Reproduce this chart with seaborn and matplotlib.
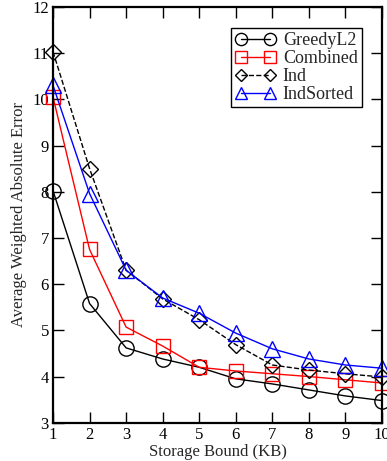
import matplotlib
matplotlib.use("Agg")
import matplotlib.pyplot as plt
import seaborn as sns
import pandas as pd

sns.set_theme(style="ticks")
plt.rcParams['font.family'] = ['Liberation Serif', 'DejaVu Serif']

storage = [1, 2, 3, 4, 5, 6, 7, 8, 9, 10]
greedy = [8.02, 5.58, 4.62, 4.38, 4.20, 3.95, 3.84, 3.71, 3.58, 3.48]
combined = [10.05, 6.75, 5.07, 4.66, 4.20, 4.12, 4.06, 4.00, 3.93, 3.86]
ind = [11.03, 8.50, 6.30, 5.68, 5.23, 4.69, 4.25, 4.14, 4.06, 3.99]
indsorted = [10.30, 7.96, 6.30, 5.70, 5.37, 4.94, 4.60, 4.38, 4.25, 4.18]

series = ["GreedyL2", "Combined", "Ind", "IndSorted"]
df = pd.DataFrame({
    "x": storage * 4,
    "y": greedy + combined + ind + indsorted,
    "s": sum([[n] * len(storage) for n in series], []),
})

fig, ax = plt.subplots(figsize=(3.87, 4.61), dpi=100)
fig.subplots_adjust(left=0.137, right=0.987, top=0.985, bottom=0.083)

colors = {"GreedyL2": "black", "Combined": "red", "Ind": "black", "IndSorted": "blue"}
markers = {"GreedyL2": "o", "Combined": "s", "Ind": "D", "IndSorted": "^"}
msize = {"GreedyL2": 11, "Combined": 10, "Ind": 8, "IndSorted": 11}
styles = {"GreedyL2": "-", "Combined": "-", "Ind": "--", "IndSorted": "-"}

for n in series:
    sub = df[df.s == n]
    sns.lineplot(data=sub, x="x", y="y", ax=ax, color=colors[n], marker=markers[n],
                 markersize=msize[n], markerfacecolor="none", markeredgecolor=colors[n],
                 markeredgewidth=1.0, linewidth=1.0, linestyle=styles[n], label=n,
                 clip_on=False)

ax.set_xlim(1, 10)
ax.set_ylim(3, 12)
ax.set_xticks(storage)
ax.set_yticks(range(3, 13))
ax.tick_params(direction="in", top=True, right=True, length=8, width=1, labelsize=12, colors="black", pad=3)
for sp in ax.spines.values():
    sp.set_linewidth(1.6)
    sp.set_color("black")
ax.set_xlabel("Storage Bound (KB)", fontsize=12, labelpad=1)
ax.set_ylabel("Average Weighted Absolute Error", fontsize=12, labelpad=4)

leg = ax.legend(loc="upper right", bbox_to_anchor=(0.94, 0.95), fontsize=13, frameon=True,
                fancybox=False, edgecolor="black", handlelength=2.2, borderpad=0.25,
                labelspacing=0.05, handletextpad=0.4, borderaxespad=0.0, markerscale=0.8,
                numpoints=2)
leg.get_frame().set_linewidth(1.0)
leg.get_frame().set_alpha(1)

fig.savefig("out.png", dpi=100)
